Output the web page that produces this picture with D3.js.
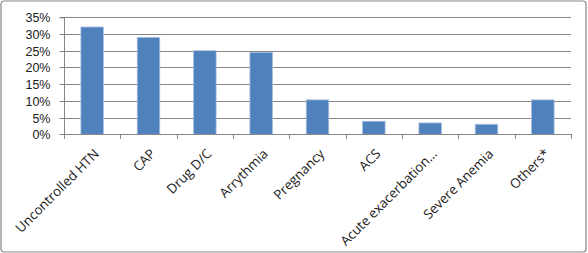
<!DOCTYPE html>
<html><head><meta charset="utf-8">
<script src="https://cdn.jsdelivr.net/npm/d3@7"></script>
<style>body{margin:0;background:#fff;} svg{display:block;}</style>
</head><body>
<script>
const categories = ["Uncontrolled HTN","CAP","Drug D/C","Arrythmia","Pregnancy","ACS","Acute exacerbation…","Severe Anemia","Others*"];
const values = [32.1, 29.0, 25.0, 24.5, 10.3, 3.9, 3.4, 3.0, 10.3];
const yTicks = [0,5,10,15,20,25,30,35];

const W=588,H=253;
const svg=d3.select("body").append("svg").attr("width",W).attr("height",H);
svg.append("rect").attr("x",1).attr("y",1).attr("width",W-3).attr("height",H-2).attr("rx",3)
  .attr("fill","#fff").attr("stroke","#868686").attr("stroke-width",1.2);

const L=64,R=571,T=17.3,B=134.3;
const x=d3.scaleBand().domain(categories).range([L,R]).paddingInner(0.6).paddingOuter(0.3);
const y=d3.scaleLinear().domain([0,35]).range([B,T]);
const font="'Open Sans', 'Liberation Sans', Arial, sans-serif";
const yfont="'Liberation Sans', Arial, sans-serif";

// gridlines
svg.append("g").selectAll("line").data(yTicks.filter(d=>d>0)).join("line")
  .attr("x1",L).attr("x2",R).attr("y1",d=>Math.round(y(d))+0.5).attr("y2",d=>Math.round(y(d))+0.5)
  .attr("stroke","#868686").attr("stroke-width",1);

// y axis
const ya=svg.append("g").attr("transform",`translate(${L+0.5},0.5)`)
  .call(d3.axisLeft(y).tickValues(yTicks).tickSize(5).tickPadding(9).tickFormat(d=>d+"%"));
ya.select(".domain").attr("stroke","#868686").attr("d",`M-5,${T}H0V${B}`);
ya.selectAll(".tick line").attr("stroke","#868686");
ya.selectAll("text").attr("font-family",yfont).attr("font-size","12.5px").attr("fill","#1a1a1a");
ya.selectAll(".tick").attr("transform",d=>`translate(0,${Math.round(y(d))})`);

// bars
svg.append("g").selectAll("rect").data(values).join("rect")
  .attr("x",(d,i)=>x(categories[i])).attr("width",x.bandwidth())
  .attr("y",d=>y(d)).attr("height",d=>B-y(d))
  .attr("fill","#4F81BD").attr("stroke","#a9c0e0").attr("stroke-width",0.8);

// x axis line and ticks
const step=(R-L)/categories.length;
const bounds=d3.range(categories.length+1).map(i=>L+i*step);
svg.append("line").attr("x1",L).attr("x2",R).attr("y1",Math.round(B)+0.5).attr("y2",Math.round(B)+0.5)
  .attr("stroke","#868686");
svg.append("g").selectAll("line").data(bounds).join("line")
  .attr("x1",d=>Math.round(d)+0.5).attr("x2",d=>Math.round(d)+0.5)
  .attr("y1",Math.round(B)).attr("y2",Math.round(B)+5).attr("stroke","#868686");

// x labels
svg.append("g").selectAll("text").data(categories).join("text")
  .attr("transform",d=>`translate(${x(d)+x.bandwidth()/2+1},${148}) rotate(-45)`)
  .attr("text-anchor","end").attr("dy","0.71em")
  .attr("font-family",font).attr("font-size","13.3px").attr("fill","#1a1a1a")
  .text(d=>d);
</script>
</body></html>
